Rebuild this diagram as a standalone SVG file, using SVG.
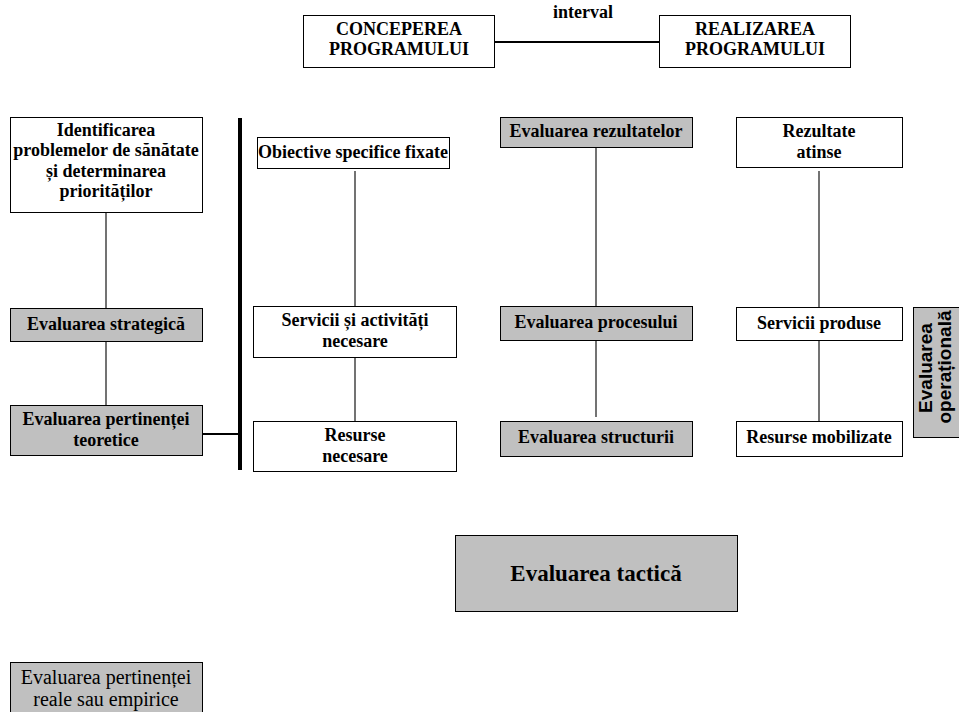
<svg xmlns="http://www.w3.org/2000/svg" width="959" height="712" viewBox="0 0 959 712">
<style>
.b{fill:#fff;stroke:#000;stroke-width:1}
.g{fill:#c0c0c0;stroke:#000;stroke-width:1}
.t{font-family:"Liberation Serif","Times New Roman",serif;font-weight:bold;font-size:18px;text-anchor:middle;fill:#000}
.r{font-family:"Liberation Serif","Times New Roman",serif;font-size:20px;text-anchor:middle;fill:#000}
.s{font-family:"Liberation Sans",Arial,sans-serif;font-weight:bold;font-size:19px;text-anchor:middle;fill:#000}
.c{stroke:#444;stroke-width:1.5;fill:none}
.k{stroke:#000;stroke-width:2;fill:none}
</style>
<rect width="959" height="712" fill="#fff"/>
<g id="connectors">
<line class="k" x1="494" y1="42" x2="659" y2="42"/>
<line class="c" x1="106" y1="212" x2="106" y2="308"/>
<line class="c" x1="106" y1="341" x2="106" y2="405"/>
<line class="k" x1="202" y1="434" x2="238" y2="434"/>
<line x1="240" y1="118" x2="240" y2="470" stroke="#000" stroke-width="4"/>
<line class="c" x1="355" y1="171" x2="355" y2="306"/>
<line class="c" x1="355" y1="357" x2="355" y2="421"/>
<line class="c" x1="596" y1="147" x2="596" y2="306"/>
<line class="c" x1="596" y1="340" x2="596" y2="417"/>
<line class="c" x1="819" y1="171" x2="819" y2="307"/>
<line class="c" x1="819" y1="340" x2="819" y2="421"/>
</g>
<g id="interval"><text class="t" x="583" y="18">interval</text></g>
<g id="conceperea">
<rect class="b" x="303.5" y="15.5" width="191" height="52"/>
<text class="t" x="399" y="35">CONCEPEREA</text>
<text class="t" x="399" y="55">PROGRAMULUI</text>
</g>
<g id="realizarea">
<rect class="b" x="659.5" y="15.5" width="191" height="52"/>
<text class="t" x="755" y="35">REALIZAREA</text>
<text class="t" x="755" y="55">PROGRAMULUI</text>
</g>
<g id="identificarea">
<rect class="b" x="10.5" y="117.5" width="192" height="95"/>
<text class="t" x="106" y="136">Identificarea</text>
<text class="t" x="106" y="156">problemelor de sănătate</text>
<text class="t" x="106" y="177">și determinarea</text>
<text class="t" x="106" y="197">priorităților</text>
</g>
<g id="strategica">
<rect class="g" x="10.5" y="308.5" width="192" height="33"/>
<text class="t" x="106" y="330">Evaluarea strategică</text>
</g>
<g id="teoretice">
<rect class="g" x="10.5" y="405.5" width="192" height="50"/>
<text class="t" x="106" y="425">Evaluarea pertinenței</text>
<text class="t" x="106" y="446">teoretice</text>
</g>
<g id="obiective">
<rect class="b" x="257.5" y="137.5" width="192" height="31"/>
<text class="t" x="353" y="158">Obiective specifice fixate</text>
</g>
<g id="servicii-necesare">
<rect class="b" x="253.5" y="306.5" width="203" height="51"/>
<text class="t" x="355" y="326">Servicii și activități</text>
<text class="t" x="355" y="347">necesare</text>
</g>
<g id="resurse-necesare">
<rect class="b" x="253.5" y="421.5" width="203" height="50"/>
<text class="t" x="355" y="441">Resurse</text>
<text class="t" x="355" y="462">necesare</text>
</g>
<g id="rezultatelor">
<rect class="g" x="500.5" y="117.5" width="192" height="30"/>
<text class="t" x="596" y="137">Evaluarea rezultatelor</text>
</g>
<g id="procesului">
<rect class="g" x="500.5" y="306.5" width="192" height="34"/>
<text class="t" x="596" y="328">Evaluarea procesului</text>
</g>
<g id="structurii">
<rect class="g" x="500.5" y="421.5" width="192" height="35"/>
<text class="t" x="596" y="443">Evaluarea structurii</text>
</g>
<g id="rezultate-atinse">
<rect class="b" x="736.5" y="117.5" width="166" height="50"/>
<text class="t" x="819" y="137">Rezultate</text>
<text class="t" x="819" y="158">atinse</text>
</g>
<g id="servicii-produse">
<rect class="b" x="736.5" y="307.5" width="166" height="33"/>
<text class="t" x="819" y="329">Servicii produse</text>
</g>
<g id="resurse-mobilizate">
<rect class="b" x="736.5" y="421.5" width="166" height="35"/>
<text class="t" x="819" y="443">Resurse mobilizate</text>
</g>
<g id="operationala">
<rect class="g" x="913.5" y="307.5" width="50" height="130"/>
<text class="s" transform="translate(932,368) rotate(-90)">Evaluarea</text>
<text class="s" transform="translate(951,367) rotate(-90)">operațională</text>
</g>
<g id="tactica">
<rect class="g" x="455.5" y="535.5" width="282" height="76"/>
<text class="t" x="596" y="581" style="font-size:23px">Evaluarea tactică</text>
</g>
<g id="empirice">
<rect class="g" x="10.5" y="662.5" width="192" height="60"/>
<text class="r" x="106" y="684">Evaluarea pertinenței</text>
<text class="r" x="106" y="706">reale sau empirice</text>
</g>
</svg>
